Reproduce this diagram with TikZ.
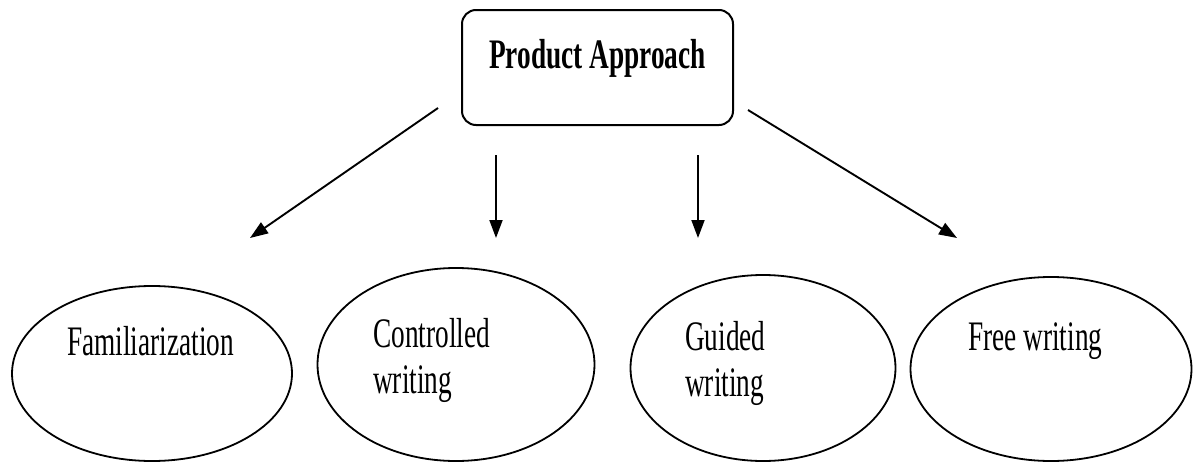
\documentclass[tikz,border=0pt]{standalone}
\usepackage{fontspec}
\setmainfont{Liberation Serif}[FakeStretch=0.65]
\usepackage{tikz}
\usetikzlibrary{arrows.meta,shapes.geometric}
\tikzset{
  pbox/.style={draw,rounded corners=14pt,line width=2pt,minimum width=271pt,inner sep=0pt,text height=58pt,text depth=57pt,font=\fontsize{42}{46}\selectfont\bfseries},
  oval/.style={draw,ellipse,line width=1.8pt,inner sep=0pt},
  lbl/.style={anchor=base west,inner sep=0pt,align=left,font=\fontsize{42}{46}\selectfont},
  arr/.style={-{Triangle[length=18pt,width=13pt]},line width=1.9pt},
}
\begin{document}
\begin{tikzpicture}[x=1pt,y=-1pt]
 \useasboundingbox (0,0) rectangle (1203,463);
 \node[pbox] (prod) at (597.5,67.5) {Product Approach};
 % the four stages
 \node[oval,minimum width=280pt,minimum height=175pt] (fam) at (152,373.5) {};
 \node[oval,minimum width=277pt,minimum height=193pt] (con) at (456,364.5) {};
 \node[oval,minimum width=265pt,minimum height=186pt] (gui) at (763,368) {};
 \node[oval,minimum width=281pt,minimum height=184pt] (fre) at (1051,369) {};
 \node[lbl] (famt) at (67,355) {Familiarization};
 \node[lbl] (cont) at (373,393) {Controlled\\writing};
 \node[lbl] (guit) at (685,396) {Guided\\writing};
 \node[lbl] (fret) at (968,350) {Free writing};
 % arrows
 \coordinate (s1) at (438,108); \coordinate (t1) at (250,238);
 \coordinate (s2) at (496,155); \coordinate (t2) at (496,238);
 \coordinate (s3) at (698,155); \coordinate (t3) at (698,238);
 \coordinate (s4) at (748,110); \coordinate (t4) at (957,238);
 \foreach \i in {1,...,4}{\draw[arr] (s\i) -- (t\i);}
\end{tikzpicture}
\end{document}
